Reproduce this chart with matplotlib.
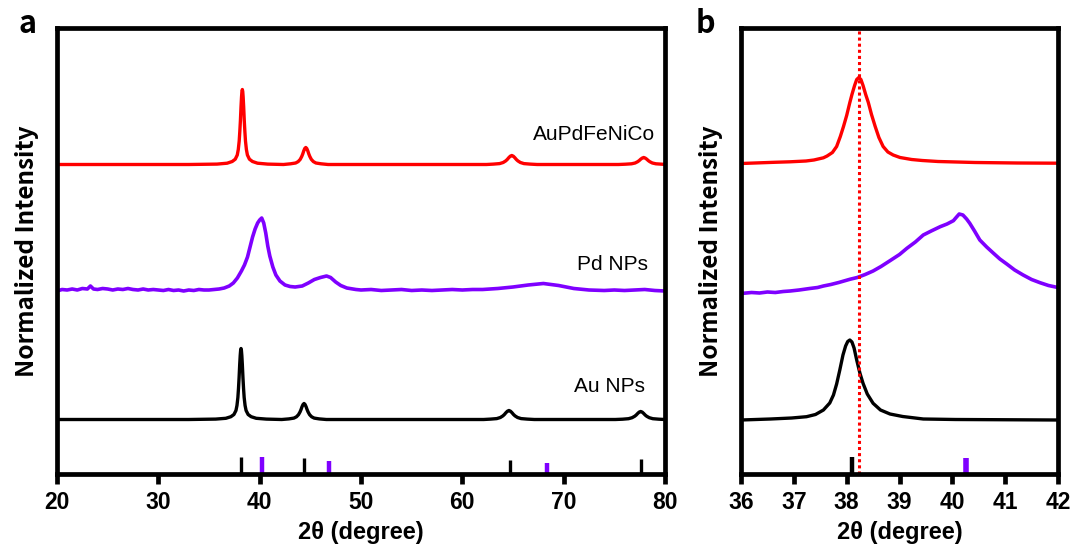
import matplotlib
matplotlib.use("Agg")
import matplotlib.pyplot as plt

# ---------------- data ----------------
# Each curve: (2theta, normalized intensity) pairs; curves are stacked with a vertical offset.

# Panel a — AuPdFeNiCo
a_red = [(20, 0), (25, 0), (30, 0), (33, 0),
         (35.79, 0.4), (36.79, 1.3), (37.29, 3), (37.59, 5.3), (37.79, 9.5), (37.89, 15), (37.98, 23.5),
         (38.04, 33), (38.10, 44), (38.16, 58), (38.21, 67.5), (38.25, 73), (38.29, 75), (38.33, 73),
         (38.37, 67.5), (38.42, 58), (38.48, 44), (38.54, 33), (38.60, 23.5), (38.69, 15), (38.79, 9.5),
         (38.99, 5.3), (39.29, 3), (39.79, 1.3), (40.79, 0.4),
         (42.35, 0), (43.05, 0.7), (43.55, 1.5), (43.8, 2.9), (44.0, 5.1), (44.15, 8), (44.25, 10.5),
         (44.35, 13.6), (44.45, 16), (44.55, 17), (44.65, 16), (44.75, 13.6), (44.85, 10.5), (44.95, 8),
         (45.1, 5.1), (45.3, 2.9), (45.55, 1.5), (46.05, 0.7), (46.75, 0),
         (50, 0), (55, 0), (60, 0),
         (62.38, 0), (63.08, 0.4), (63.68, 0.9), (64.03, 2), (64.28, 3.6), (64.43, 5), (64.58, 6.8),
         (64.73, 8.3), (64.88, 9), (65.03, 8.3), (65.18, 6.8), (65.33, 5), (65.48, 3.6), (65.73, 2),
         (66.08, 0.9), (66.68, 0.4), (67.38, 0),
         (70, 0), (73, 0),
         (75.4, 0), (76.1, 0.3), (76.7, 0.7), (77.05, 1.5), (77.3, 2.8), (77.45, 3.9), (77.6, 5.3),
         (77.75, 6.4), (77.9, 7), (78.05, 6.4), (78.2, 5.3), (78.35, 3.9), (78.5, 2.8), (78.75, 1.5),
         (79.1, 0.7), (79.7, 0.3), (80, 0.1)]

# Panel a — Pd NPs
a_pur = [(20, -1), (20.5, 0.5), (21, 0), (21.5, 1), (22, 0), (22.5, 1.5), (23, 1), (23.3, 4), (23.6, 1),
         (24, 0.5), (24.5, 1.5), (25, 1), (25.5, 0), (26, 1), (26.5, 0.5), (27, 1.5), (27.5, 0.5), (28, 0),
         (28.5, 1), (29, 0), (29.5, 0.5), (30, 0), (30.5, -0.5), (31, 0.5), (31.5, -0.5), (32, 0),
         (32.5, -1), (33, 0), (33.5, -0.5), (34, 0.5), (34.5, 0), (35, 0), (35.5, 0.5), (36, 1), (36.5, 2),
         (37, 4), (37.4, 7), (37.8, 12), (38.2, 19), (38.5, 25), (38.8, 33), (39.05, 43), (39.3, 53),
         (39.55, 61), (39.8, 67), (40.0, 70), (40.2, 72), (40.4, 67), (40.6, 57), (40.8, 44), (41.0, 34),
         (41.3, 23), (41.6, 15), (42.0, 9), (42.5, 5), (43.0, 3.5), (43.5, 3), (44.2, 4), (44.8, 7),
         (45.4, 10.5), (46.0, 12.5), (46.6, 14), (47.0, 12.5), (47.5, 8), (48.0, 4.5), (48.6, 2),
         (49.5, 0.5), (50, 0), (51, 0.5), (52, -0.5), (53, 0), (54, 0.5), (55, -0.5), (56, 0), (57, -0.5),
         (58, 0), (59, 0.5), (60, 0), (61, 0.5), (62, 0.5), (63.5, 1.5), (65, 3), (66.5, 5), (68, 6.5),
         (69.5, 4.5), (71, 1.5), (72.5, 0), (74, -0.5), (75, 0), (76, -0.5), (77, 0), (78, 0.5),
         (79, -0.5), (80, -1)]

# Panel a — Au NPs
a_blk = [(20, 0), (25, 0), (30, 0), (33, 0),
         (35.66, 0.4), (36.66, 1.2), (37.16, 2.8), (37.46, 5), (37.66, 9), (37.76, 14), (37.85, 22),
         (37.91, 31), (37.97, 42), (38.03, 55), (38.08, 64), (38.12, 69), (38.16, 71), (38.20, 69),
         (38.24, 64), (38.29, 55), (38.35, 42), (38.41, 31), (38.47, 22), (38.56, 14), (38.66, 9),
         (38.86, 5), (39.16, 2.8), (39.66, 1.2), (40.66, 0.4),
         (42.18, 0), (42.88, 0.6), (43.38, 1.4), (43.63, 2.7), (43.83, 4.8), (43.98, 7.5), (44.08, 9.9),
         (44.18, 12.8), (44.28, 15), (44.38, 16), (44.48, 15), (44.58, 12.8), (44.68, 9.9), (44.78, 7.5),
         (44.93, 4.8), (45.13, 2.7), (45.38, 1.4), (45.88, 0.6), (46.58, 0),
         (50, 0), (55, 0), (60, 0),
         (62.1, 0), (62.8, 0.4), (63.4, 0.9), (63.75, 2), (64.0, 3.6), (64.15, 5), (64.3, 6.8), (64.45, 8.3),
         (64.6, 9), (64.75, 8.3), (64.9, 6.8), (65.05, 5), (65.2, 3.6), (65.45, 2), (65.8, 0.9),
         (66.4, 0.4), (67.1, 0),
         (70, 0), (73, 0),
         (75.1, 0), (75.8, 0.3), (76.4, 0.8), (76.75, 1.8), (77.0, 3.2), (77.15, 4.4), (77.3, 6),
         (77.45, 7.4), (77.6, 8), (77.75, 7.4), (77.9, 6), (78.05, 4.4), (78.2, 3.2), (78.45, 1.8),
         (78.8, 0.8), (79.4, 0.3), (80, 0)]

# Panel b — AuPdFeNiCo (zoom 36-42)
b_red = [(36.0, 0), (36.63, 1.2), (36.93, 1.7), (37.23, 2.5), (37.38, 3.5), (37.56, 5.7), (37.63, 7.5),
         (37.73, 11), (37.81, 17), (37.88, 27), (37.94, 37), (38.0, 48), (38.06, 61), (38.10, 69),
         (38.15, 78), (38.19, 84), (38.23, 86), (38.27, 84), (38.31, 78), (38.36, 69), (38.41, 61),
         (38.47, 49), (38.54, 37), (38.61, 26), (38.69, 17), (38.78, 11.5), (38.88, 8.5), (39.01, 6),
         (39.23, 4), (39.43, 3), (39.73, 2), (40.43, 1), (41.23, 0.5), (42.0, 0.3)]

# Panel b — Pd NPs
b_pur = [(36.04, 0), (36.2, 0.8), (36.35, 0.3), (36.5, 1.3), (36.65, 0.8), (36.8, 1.8), (36.93, 2.3),
         (37.1, 3.3), (37.3, 4.8), (37.45, 5.8), (37.56, 7.3), (37.7, 8.8), (37.85, 10.8), (38.06, 14),
         (38.2, 15.8), (38.35, 18.8), (38.5, 22.3), (38.65, 26.8), (38.82, 32.6), (39.0, 38.8),
         (39.14, 45), (39.3, 51.3), (39.45, 58.3), (39.6, 62.3), (39.77, 66.6), (39.9, 69.3),
         (40.02, 72.6), (40.08, 76.3), (40.13, 79.3), (40.2, 78.3), (40.27, 74.3), (40.33, 70),
         (40.42, 62.3), (40.52, 53.3), (40.65, 46.3), (40.78, 40), (40.9, 34.3), (41.03, 29.3),
         (41.18, 23.3), (41.34, 18.3), (41.5, 13.8), (41.66, 10.6), (41.82, 7.8), (41.98, 6)]

# Panel b — Au NPs
b_blk = [(36.0, 0), (36.56, 1), (36.96, 2), (37.24, 3.3), (37.41, 5.5), (37.56, 10), (37.68, 17),
         (37.75, 25), (37.81, 36), (37.87, 50), (37.93, 65), (37.98, 74), (38.02, 78.5), (38.06, 80),
         (38.10, 78), (38.14, 72), (38.19, 60), (38.25, 47), (38.31, 36.7), (38.39, 26), (38.5, 16.7),
         (38.64, 10), (38.82, 6), (39.06, 3.5), (39.45, 1), (40.06, 0.5), (42.0, 0)]

# vertical stacking offsets
offset_a = {"red": 309.5, "pur": 184.0, "blk": 54.5}
offset_b = {"red": 310.5, "pur": 180.7, "blk": 54.0}

# reference patterns (stick positions / heights)
au_ref_pos = [38.15, 44.38, 64.7, 77.6]
au_ref_h = [17, 16, 14.5, 15.5]
pd_ref_pos = [40.27, 46.8, 68.4]
pd_ref_h = [17, 13, 11]

b_au_ref_pos = [38.1]
b_au_ref_h = [17]
b_pd_ref_pos = [40.25]
b_pd_ref_h = [16.5]

alloy_line = 38.23

labels = ["AuPdFeNiCo", "Pd NPs", "Au NPs"]
a_ticks = [20, 30, 40, 50, 60, 70, 80]
b_ticks = [36, 37, 38, 39, 40, 41, 42]

RED = "#FF0000"
PUR = "#7F00FF"
BLK = "#000000"

# ---------------- figure ----------------
W, H = 1075, 546
fig = plt.figure(figsize=(W / 100, H / 100), dpi=100)

def px_rect(x0, x1, ytop, ybot):
    return [x0 / W, 1 - ybot / H, (x1 - x0) / W, (ybot - ytop) / H]

axA = fig.add_axes(px_rect(57, 665, 28, 474))
axB = fig.add_axes(px_rect(741, 1058, 28, 474))

tick_font = dict(family="Liberation Sans", weight="bold", size=16.5)
lab_font = dict(family="Liberation Sans", weight="bold", size=17)
ylab_font = dict(family=["Noto Sans CJK KR", "DejaVu Sans"], weight="bold", size=17.5)

for ax in (axA, axB):
    for s in ax.spines.values():
        s.set_linewidth(3.4)
    ax.set_ylim(0, 446)
    ax.set_yticks([])
    ax.tick_params(axis="x", direction="out", length=7, width=3.4, pad=5)
    ax.set_xlabel("2θ (degree)", fontdict=lab_font, labelpad=5)
    ax.set_ylabel("Normalized Intensity", fontdict=ylab_font, labelpad=13)

def draw(ax, pts, off, color, lw):
    xs = [p[0] for p in pts]
    ys = [p[1] + off for p in pts]
    ax.plot(xs, ys, color=color, lw=lw, solid_joinstyle="round")

lw = 2.4
draw(axA, a_red, offset_a["red"], RED, lw)
draw(axA, a_pur, offset_a["pur"], PUR, 2.6)
draw(axA, a_blk, offset_a["blk"], BLK, lw)
axA.vlines(au_ref_pos, 0, au_ref_h, color=BLK, lw=2.4)
axA.vlines(pd_ref_pos, 0, pd_ref_h, color=PUR, lw=3.2)
axA.set_xlim(20, 80)
axA.set_xticks(a_ticks)
axA.set_xticklabels([str(v) for v in a_ticks], fontdict=tick_font)

txt_font = dict(family="Liberation Sans", size=15)
axA.text(79.0, 339, labels[0], ha="right", va="center", fontdict=txt_font)
axA.text(78.3, 209, labels[1], ha="right", va="center", fontdict=txt_font)
axA.text(78.0, 87, labels[2], ha="right", va="center", fontdict=txt_font)

draw(axB, b_red, offset_b["red"], RED, lw)
draw(axB, b_pur, offset_b["pur"], PUR, 2.6)
draw(axB, b_blk, offset_b["blk"], BLK, lw)
axB.vlines(b_au_ref_pos, 0, b_au_ref_h, color=BLK, lw=3.2)
axB.vlines(b_pd_ref_pos, 0, b_pd_ref_h, color=PUR, lw=4)
axB.axvline(alloy_line, color=RED, lw=2.2, ls=(0, (1, 1)))
axB.set_xlim(36, 42)
axB.set_xticks(b_ticks)
axB.set_xticklabels([str(v) for v in b_ticks], fontdict=tick_font)

panel_font = dict(family=["Noto Sans CJK KR", "DejaVu Sans"], weight="bold", size=22)
fig.text(28 / W, 1 - 24 / H, "a", ha="center", va="center", fontdict=panel_font)
fig.text(705 / W, 1 - 24 / H, "b", ha="center", va="center", fontdict=panel_font)

fig.savefig("out.png", dpi=100)
